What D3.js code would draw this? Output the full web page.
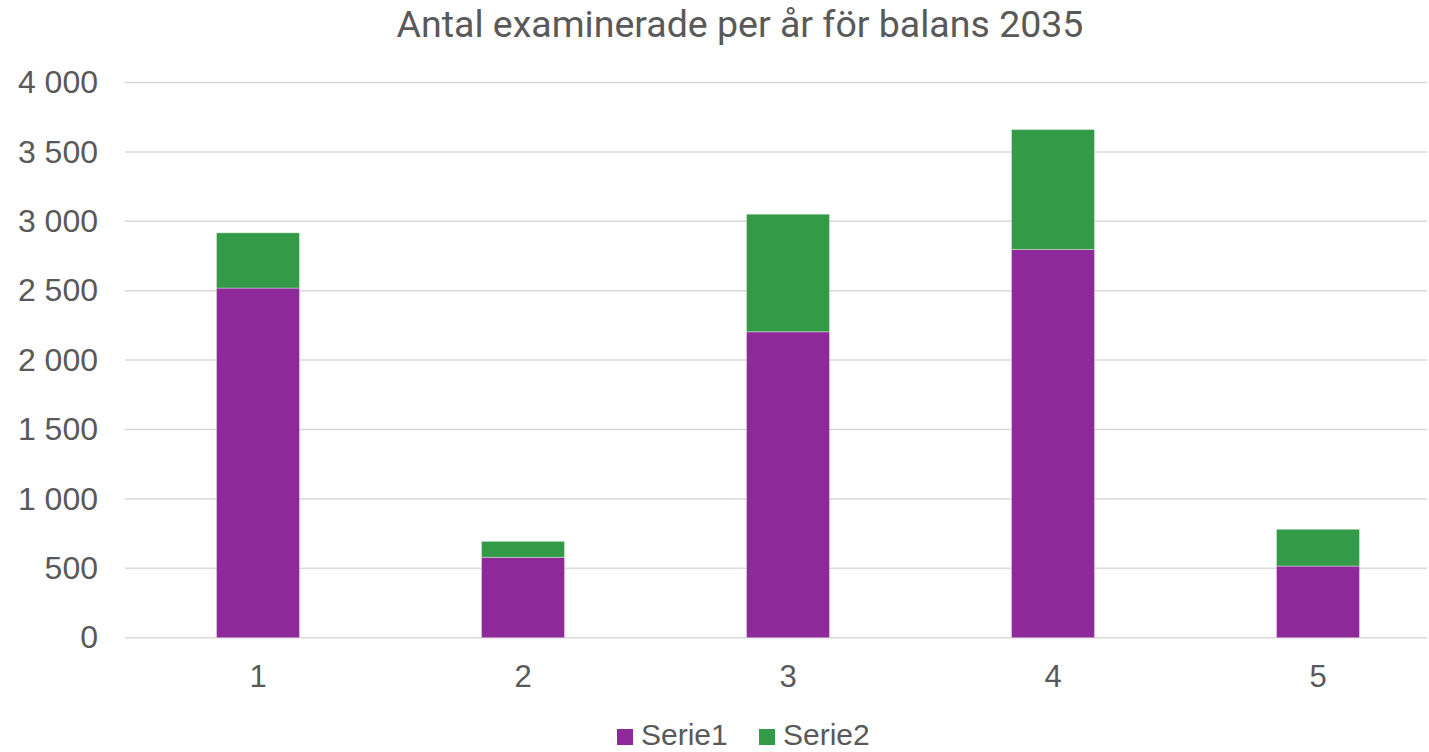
<!DOCTYPE html>
<html>
<head>
<meta charset="utf-8">
<script src="https://cdn.jsdelivr.net/npm/d3@7"></script>
<style>
  html, body { margin: 0; padding: 0; background: #fff; }
  svg { display: block; }
</style>
</head>
<body>
<svg id="chart" width="1429" height="752"></svg>
<script>
// Chart data
const categories = ["1", "2", "3", "4", "5"];
const serie1 = [2519, 579, 2204, 2797, 516];
const serie2 = [398, 115, 847, 864, 265];
const seriesNames = ["Serie1", "Serie2"];
const seriesColors = ["#8E299A", "#339B48"];
const yTicks = [0, 500, 1000, 1500, 2000, 2500, 3000, 3500, 4000];
const title = "Antal examinerade per år för balans 2035";

const svg = d3.select("#chart");
const W = 1429, H = 752;
const plotLeft = 125, plotRight = 1427, plotTop = 82.5, plotBottom = 637.7;

// Category bands: step 265, bar width 83
const x = d3.scaleBand()
  .domain(categories)
  .range([125.5, 125.5 + 265 * categories.length])
  .paddingInner(1 - 83 / 265)
  .paddingOuter((1 - 83 / 265) / 2);

const y = d3.scaleLinear()
  .domain([0, 4000])
  .range([plotBottom, plotTop]);

const fmt = v => d3.format(",")(v).replace(/,/g, " ");
const labelFont = "'Liberation Sans', Arial, sans-serif";

// Gridlines
svg.append("g")
  .selectAll("line")
  .data(yTicks)
  .join("line")
  .attr("x1", plotLeft)
  .attr("x2", plotRight)
  .attr("y1", d => y(d))
  .attr("y2", d => y(d))
  .attr("stroke", "#d9d9d9")
  .attr("stroke-width", 1.5);

// Y axis labels
const yAxis = d3.axisLeft(y).tickValues(yTicks).tickFormat(fmt).tickSize(0).tickPadding(0);
const yg = svg.append("g")
  .attr("transform", `translate(${plotLeft - 27},0)`)
  .call(yAxis);
yg.select(".domain").remove();
yg.selectAll("text")
  .attr("fill", "#595959")
  .attr("font-family", labelFont)
  .attr("font-size", 32);

// X axis labels
const xAxis = d3.axisBottom(x).tickSize(0).tickPadding(0);
const xg = svg.append("g")
  .attr("transform", `translate(0,${plotBottom + 27})`)
  .call(xAxis);
xg.select(".domain").remove();
xg.selectAll("text")
  .attr("fill", "#595959")
  .attr("font-family", labelFont)
  .attr("font-size", 31);

// Stacked bars
const rows = categories.map((c, i) => ({ cat: c, Serie1: serie1[i], Serie2: serie2[i] }));
const stacked = d3.stack().keys(seriesNames)(rows);

svg.append("g")
  .selectAll("g")
  .data(stacked)
  .join("g")
  .attr("fill", (d, i) => seriesColors[i])
  .selectAll("rect")
  .data(d => d)
  .join("rect")
  .attr("x", d => x(d.data.cat))
  .attr("width", x.bandwidth())
  .attr("y", d => y(d[1]))
  .attr("height", d => y(d[0]) - y(d[1]))
  .attr("stroke", "rgba(255,255,255,0.35)")
  .attr("stroke-width", 1);

// Title
svg.append("text")
  .attr("x", 740)
  .attr("y", 37)
  .attr("text-anchor", "middle")
  .attr("fill", "#595959")
  .attr("font-family", "Roboto, sans-serif")
  .attr("font-size", 37.5)
  .text(title);

// Legend
const legend = svg.append("g");
const legendItems = [
  { name: seriesNames[0], color: seriesColors[0], x: 617 },
  { name: seriesNames[1], color: seriesColors[1], x: 759 }
];
legendItems.forEach(it => {
  legend.append("rect")
    .attr("x", it.x).attr("y", 729)
    .attr("width", 16).attr("height", 16)
    .attr("fill", it.color);
  legend.append("text")
    .attr("x", it.x + 24).attr("y", 745)
    .attr("fill", "#595959")
    .attr("font-family", labelFont)
    .attr("font-size", 30)
    .text(it.name);
});
</script>
</body>
</html>
